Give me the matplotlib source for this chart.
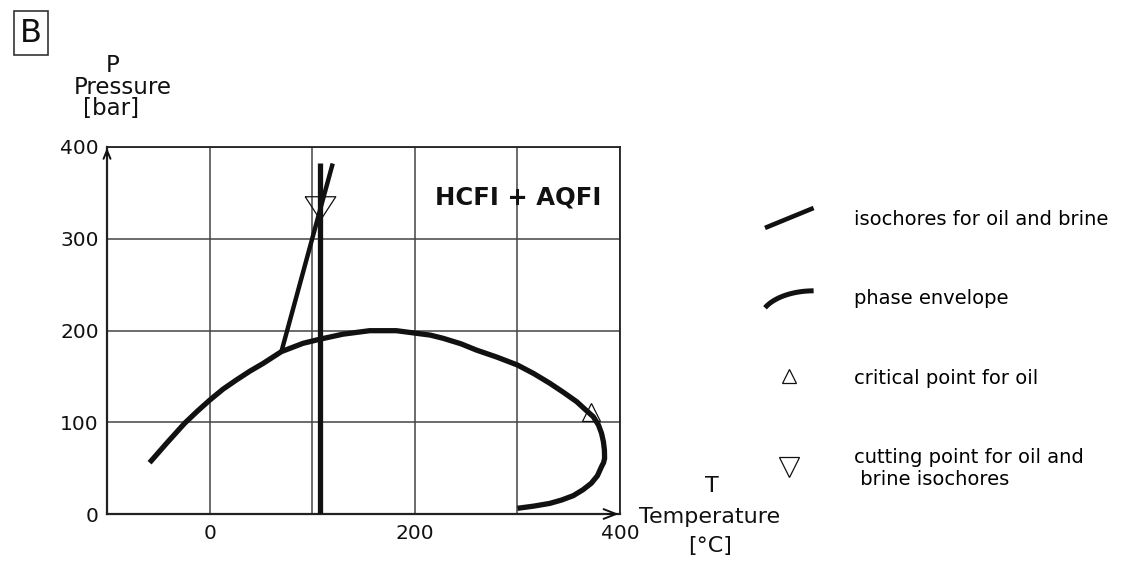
import matplotlib
matplotlib.use("Agg")
import matplotlib.pyplot as plt
import numpy as np
from matplotlib.lines import Line2D
from matplotlib.legend_handler import HandlerBase

W, H = 1126, 561

# phase envelope (T in degC, P in bar)
env_T = [-58.5, -42, -24.4, -12, 0, 13, 26, 39, 52, 70, 91, 107, 130, 156, 182, 195, 215,
         227.6, 245, 260, 280, 300, 316, 331.7, 345, 357.8, 366, 374, 379, 382, 383.8,
         384.8, 385, 384, 382, 378, 372, 364, 354.5, 343, 331.7, 316, 300]
env_P = [55.9, 77, 98.8, 112, 124, 136, 146, 155.5, 164, 177, 186, 190.4, 196, 199.8, 199.8,
         197.9, 195, 191.5, 185.5, 178.7, 171, 162.4, 153, 142.4, 132.5, 122.4, 114, 106, 97,
         88, 79, 69.8, 60.7, 56, 51.6, 41.7, 33.5, 26.5, 20, 15.2, 11.6, 8.6, 6.2]

# isochores
oil_T = [70, 120]
oil_P = [177, 382]
brine_T = [107.5, 107.5]
brine_P = [0, 383]

# special points
crit_T, crit_P = [371.5], [111.5]
cut_T, cut_P = [107.5], [333]

x_ticks = [0, 200, 400]
x_grid = [100, 300]
y_ticks = [0, 100, 200, 300, 400]

leg_labels = ["isochores for oil and brine", "phase envelope",
              "critical point for oil", "cutting point for oil and\n brine isochores"]

INK = "#111111"


def fx(x):
    return x / W


def fy(y):
    return 1 - y / H


class SlantHandler(HandlerBase):
    def create_artists(self, legend, orig_handle, xdescent, ydescent,
                       width, height, fontsize, trans):
        x0, y0 = -xdescent, -ydescent
        ln = Line2D([x0, x0 + width], [y0, y0 + height], color=INK, lw=3.3,
                    solid_capstyle="butt", transform=trans)
        return [ln]


class ArcHandler(HandlerBase):
    def create_artists(self, legend, orig_handle, xdescent, ydescent,
                       width, height, fontsize, trans):
        x0, y0 = -xdescent, -ydescent
        t = np.linspace(0.45, np.pi / 2, 30)
        u = (1 - np.cos(t) - (1 - np.cos(t[0]))) / (np.cos(t[0]))
        v = (np.sin(t) - np.sin(t[0])) / (1 - np.sin(t[0]))
        ln = Line2D(x0 + width * u, y0 + height * 0.85 * v, color=INK, lw=3.6,
                    solid_capstyle="butt", transform=trans)
        return [ln]


fig = plt.figure(figsize=(W / 100, H / 100), dpi=100)
ax = fig.add_axes([fx(107), fy(514), (620 - 107) / W, (514 - 147) / H])

ax.plot(env_T, env_P, color=INK, lw=3.8, solid_capstyle="butt", solid_joinstyle="round", zorder=3)
ax.plot(oil_T, oil_P, color=INK, lw=3.2, solid_capstyle="butt", zorder=3)
ax.plot(brine_T, brine_P, color=INK, lw=3.8, solid_capstyle="butt", zorder=3)
ax.plot(crit_T, crit_P, marker="^", ms=13, mfc="none", mec=INK, mew=0.9, ls="none", zorder=4)
tri_down = [(-1.3, 1), (1.3, 1), (0, -1), (-1.3, 1)]
ax.plot(cut_T, cut_P, marker=tri_down, ms=22, mfc="none", mec=INK, mew=0.9, ls="none", zorder=4)

ax.text(301, 345, "HCFI + AQFI", fontsize=17.5, fontweight="bold", ha="center", va="center", color=INK)

ax.set_xlim(-100, 400)
ax.set_ylim(0, 400)
ax.set_xticks(x_ticks)
ax.set_xticks(x_grid, minor=True)
ax.set_yticks(y_ticks)
ax.set_axisbelow(True)
ax.grid(which="both", color="#444444", lw=1.1)
ax.tick_params(which="both", length=0, labelsize=14.5, colors=INK)
ax.tick_params(axis="x", pad=7)
ax.tick_params(axis="y", pad=6)
for s in ax.spines.values():
    s.set_color("#222222")
    s.set_linewidth(1.3)
ax.spines["left"].set_linewidth(1.6)
ax.spines["bottom"].set_linewidth(1.6)

# axis arrows
ax.annotate("", xy=(0, 1.005), xytext=(0, 0.97), xycoords="axes fraction",
            arrowprops=dict(arrowstyle="->,head_length=0.6,head_width=0.25", lw=1.4, color=INK))
ax.annotate("", xy=(1.003, 0), xytext=(0.97, 0), xycoords="axes fraction",
            arrowprops=dict(arrowstyle="->,head_length=0.9,head_width=0.35", lw=1.4, color=INK))

# axis titles
fig.text(fx(113), fy(66), "P", fontsize=16.5, ha="center", va="center", color=INK)
fig.text(fx(123), fy(87), "Pressure", fontsize=16.5, ha="center", va="center", color=INK)
fig.text(fx(111), fy(108), "[bar]", fontsize=16.5, ha="center", va="center", color=INK)
fig.text(fx(712), fy(486), "T", fontsize=16, ha="center", va="center", color=INK)
fig.text(fx(710), fy(517), "Temperature", fontsize=16, ha="center", va="center", color=INK)
fig.text(fx(710), fy(546), "[°C]", fontsize=16, ha="center", va="center", color=INK)

# panel letter
fig.text(fx(31), fy(33), "B", fontsize=23, ha="center", va="center", color=INK,
         bbox=dict(boxstyle="square,pad=0.2", fc="white", ec="#333333", lw=1.2))

# legend
h_iso = Line2D([], [], color=INK)
h_env = Line2D([], [], color=INK)
h_crit = Line2D([], [], marker="^", ms=10, mfc="none", mec=INK, mew=0.9, ls="none")
h_cut = Line2D([], [], marker="v", ms=15, mfc="none", mec=INK, mew=0.9, ls="none")
fig.legend([h_iso, h_env, h_crit, h_cut], leg_labels,
           handler_map={h_iso: SlantHandler(), h_env: ArcHandler()},
           loc="upper left", bbox_to_anchor=(fx(765), fy(208)), frameon=False,
           fontsize=14, handlelength=2.5, handleheight=1.2, handletextpad=2.1,
           labelspacing=3.05, borderpad=0, borderaxespad=0, numpoints=1)

fig.savefig("out.png", dpi=100, facecolor="white")
